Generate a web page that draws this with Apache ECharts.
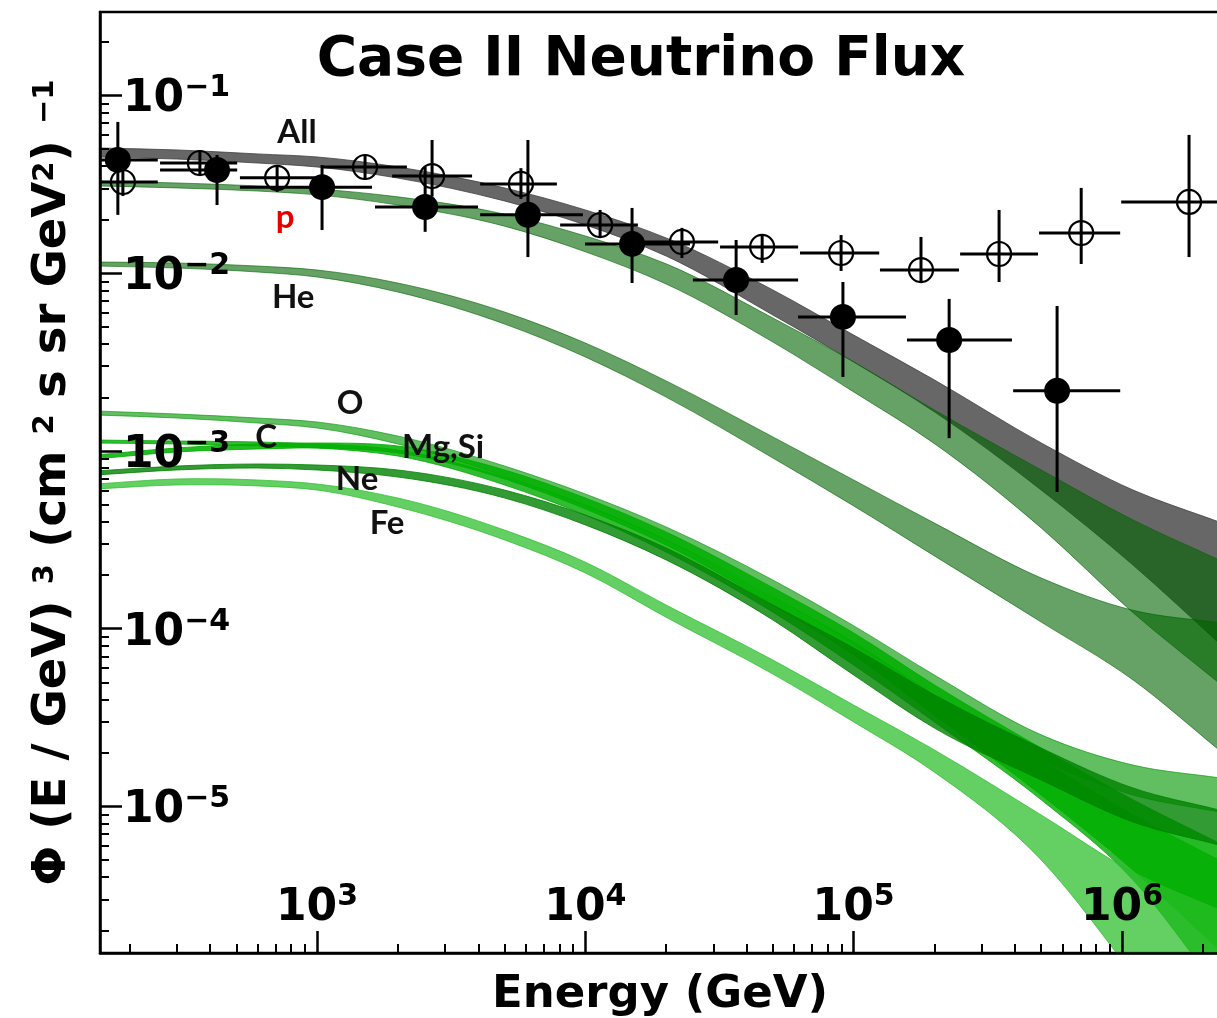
<!DOCTYPE html>
<html><head><meta charset="utf-8">
<script src="https://cdn.jsdelivr.net/npm/echarts@6/dist/echarts.min.js"></script>
<style>html,body{margin:0;padding:0;background:#fff}#chart{width:1217px;height:1018px}</style>
</head><body><div id="chart"></div>
<script>
// ---------------- data ----------------
const bandEnergy = [150, 300, 600, 1000, 2000, 5000, 1e4, 2e4, 5e4, 1e5, 2e5, 5e5, 1.1e6, 2.3e6];

const allUpper = [0.0507, 0.0494, 0.0469, 0.0451, 0.0396, 0.0302, 0.0227, 0.0158, 0.00805, 0.00449, 0.00251, 0.00111, 0.000603, 0.000399];
const allLower = [0.0451, 0.0439, 0.0417, 0.0396, 0.0343, 0.0255, 0.0187, 0.0125, 0.00582, 0.00317, 0.00166, 0.000603, 0.000228, 8.31e-5];

const pUpper = [0.0330, 0.0322, 0.0310, 0.0298, 0.0269, 0.0215, 0.0162, 0.0113, 0.00560, 0.00317, 0.00170, 0.000782, 0.000409, 0.000244];
const pLower = [0.0310, 0.0302, 0.0290, 0.0276, 0.0242, 0.0184, 0.0132, 0.00870, 0.00410, 0.00215, 0.00110, 0.000369, 0.000123, 4.95e-5];

const heUpper = [0.01157, 0.01142, 0.01098, 0.01043, 0.00881, 0.00605, 0.00405, 0.00248, 0.00120, 0.000687, 0.000393, 0.000193, 0.000127, 0.000108];
const heLower = [0.01098, 0.01070, 0.01016, 0.00953, 0.00784, 0.00518, 0.00338, 0.00201, 0.000913, 0.000491, 0.000257, 0.000109, 5.15e-5, 2.08e-5];

const oUpper = [0.001679, 0.001615, 0.001533, 0.001456, 0.001214, 0.000823, 0.000573, 0.000374, 0.000188, 0.000104, 5.49e-5, 2.53e-5, 1.71e-5, 1.45e-5];
const oLower = [0.001594, 0.001533, 0.001437, 0.001347, 0.001095, 0.000723, 0.000491, 0.000316, 0.000153, 8.21e-5, 4.13e-5, 1.83e-5, 1.16e-5, 9.31e-6];

const cUpper = [0.001153, 0.001138, 0.001124, 0.001095, 0.001013, 0.000714, 0.000497, 0.000316, 0.000151, 8.42e-5, 4.24e-5, 1.83e-5, 8.96e-6, 5.00e-6];
const cLower = [0.001109, 0.001095, 0.001067, 0.001040, 0.000937, 0.000644, 0.000436, 0.000270, 0.000124, 6.25e-5, 2.99e-5, 1.09e-5, 3.86e-6, 9.28e-7];

const mgsiUpper = [0.000950, 0.001040, 0.001095, 0.001109, 0.001067, 0.000782, 0.000544, 0.000350, 0.000170, 9.47e-5, 4.83e-5, 2.13e-5, 1.09e-5, 6.23e-6];
const mgsiLower = [0.000902, 0.000987, 0.001026, 0.001040, 0.000974, 0.000696, 0.000472, 0.000296, 0.000136, 7.12e-5, 3.27e-5, 1.16e-5, 4.39e-6, 1.56e-6];

const neUpper = [0.000772, 0.000823, 0.000845, 0.000834, 0.000782, 0.000603, 0.000436, 0.000285, 0.000136, 7.79e-5, 4.24e-5, 2.13e-5, 1.27e-5, 9.56e-6];
const neLower = [0.000733, 0.000782, 0.000802, 0.000782, 0.000714, 0.000544, 0.000384, 0.000244, 0.000112, 5.49e-5, 2.76e-5, 1.41e-5, 8.18e-6, 6.07e-6];

const feUpper = [0.000652, 0.000696, 0.000687, 0.000652, 0.000544, 0.000359, 0.000237, 0.000136, 6.67e-5, 3.72e-5, 2.08e-5, 8.96e-6, 4.28e-6, 2.62e-6];
const feLower = [0.000611, 0.000644, 0.000636, 0.000603, 0.000484, 0.000316, 0.000206, 0.000116, 5.56e-5, 2.99e-5, 1.56e-5, 5.00e-6, 1.13e-6, 2.54e-7];

// filled-circle data points with error bars
const filledE      = [181, 424, 1044, 2529, 6109, 14930, 36470, 91200, 226900, 573000];
const filledFlux   = [0.0434, 0.0381, 0.0305, 0.0236, 0.0213, 0.01462, 0.00916, 0.00568, 0.00421, 0.00218];
const filledELo    = [130, 260, 516, 1645, 4055, 9970, 25170, 62070, 158000, 393000];
const filledEHi    = [255, 504, 1603, 3981, 9795, 24540, 62070, 156700, 389000, 985000];
const filledFluxLo = [0.0213, 0.0242, 0.0175, 0.0171, 0.01233, 0.00881, 0.00582, 0.00261, 0.00118, 0.000588];
const filledFluxHi = [0.0710, 0.0463, 0.0406, 0.0396, 0.0562, 0.0233, 0.01538, 0.00893, 0.00717, 0.00654];

// open-circle data points with error bars
const openE      = [189, 366, 710, 1510, 2684, 5754, 11350, 22910, 45600, 89770, 178200, 348300, 704700, 1778000];
const openFlux   = [0.0326, 0.0417, 0.0344, 0.0396, 0.0352, 0.0318, 0.01866, 0.0150, 0.01406, 0.0130, 0.01042, 0.01283, 0.01683, 0.0252];
const openELo    = [150, 260, 516, 1052, 1905, 4055, 8054, 15700, 31770, 63100, 125300, 249300, 490900, 993200];
const openEHi    = [255, 504, 1000, 2163, 3783, 7834, 15700, 31260, 62070, 124500, 247000, 486400, 984600, 3270000];
const openFluxLo = [0.0272, 0.0352, 0.0287, 0.0335, 0.0270, 0.0262, 0.0160, 0.01219, 0.01143, 0.0103, 0.00881, 0.00893, 0.01127, 0.01233];
const openFluxHi = [0.0391, 0.0493, 0.0406, 0.0463, 0.0562, 0.0390, 0.0227, 0.0180, 0.0164, 0.0164, 0.0160, 0.0227, 0.0302, 0.060];

// curve annotations
const annotText = ['All', 'p', 'He', 'O', 'C', 'Mg,Si', 'Ne', 'Fe'];
const annotE    = [842, 760, 815, 1327, 646, 2951, 1409, 1824];
const annotFlux = [0.0624, 0.0207, 0.00735, 0.001862, 0.0012, 0.001052, 0.000696, 0.000394];

// ticks
const xMajorTicks = [1e3, 1e4, 1e5, 1e6];
const xMinorTicks = [200,300,400,500,600,700,800,900, 2e3,3e3,4e3,5e3,6e3,7e3,8e3,9e3,
  2e4,3e4,4e4,5e4,6e4,7e4,8e4,9e4, 2e5,3e5,4e5,5e5,6e5,7e5,8e5,9e5, 2e6];
const yMajorTicks = [1e-5, 1e-4, 1e-3, 1e-2, 1e-1];
const yMinorTicks = [2e-6,3e-6,4e-6,5e-6,6e-6,7e-6,8e-6,9e-6, 2e-5,3e-5,4e-5,5e-5,6e-5,7e-5,8e-5,9e-5,
  2e-4,3e-4,4e-4,5e-4,6e-4,7e-4,8e-4,9e-4, 2e-3,3e-3,4e-3,5e-3,6e-3,7e-3,8e-3,9e-3,
  2e-2,3e-2,4e-2,5e-2,6e-2,7e-2,8e-2,9e-2, 2e-1];

const xMin = 155.3, xMax = 2.319e6, yMin = 1.499e-6, yMax = 0.2949;

// ---------------- rendering helpers ----------------
// cubic Hermite spline (non-uniform tangents) through pixel points, emitted as Bezier path
function spline(pts, move) {
  const n = pts.length;
  const h = [], d = [];
  for (let i = 0; i < n - 1; i++) {
    h.push(pts[i + 1][0] - pts[i][0]);
    d.push((pts[i + 1][1] - pts[i][1]) / h[i]);
  }
  const m = [];
  for (let i = 0; i < n; i++) {
    if (i === 0) m.push(d[0]);
    else if (i === n - 1) m.push(d[n - 2]);
    else m.push((d[i - 1] * h[i] + d[i] * h[i - 1]) / (h[i - 1] + h[i]));
  }
  let s = move ? 'M ' + pts[0][0] + ' ' + pts[0][1] : '';
  for (let i = 0; i < n - 1; i++) {
    const p1 = pts[i], p2 = pts[i + 1], k = h[i] / 3;
    s += ' C ' + (p1[0] + k) + ' ' + (p1[1] + m[i] * k) + ' ' + (p2[0] - k) + ' ' + (p2[1] - m[i + 1] * k) + ' ' + p2[0] + ' ' + p2[1];
  }
  return s;
}
function bandSeries(name, upper, lower, color) {
  return {
    type: 'custom', name: name, clip: true, silent: true, z: 2,
    data: bandEnergy.map((e, i) => [e, lower[i], upper[i]]),
    encode: { x: 0, y: [1, 2] },
    renderItem: function (params, api) {
      if (params.dataIndex !== 0) return null;
      const top = bandEnergy.map((e, i) => api.coord([e, upper[i]]));
      const bot = bandEnergy.map((e, i) => api.coord([e, lower[i]])).reverse();
      const d = spline(top, true) + ' L ' + bot[0][0] + ' ' + bot[0][1] + spline(bot, false) + ' Z';
      return { type: 'path', shape: { pathData: d }, style: { fill: color, stroke: color, lineWidth: 1 } };
    }
  };
}
function pointSeries(E, F, ELo, EHi, FLo, FHi, filled) {
  return {
    type: 'custom', clip: true, silent: true, z: 3,
    data: E.map((e, i) => [e, F[i], ELo[i], EHi[i], FLo[i], FHi[i]]),
    encode: { x: 0, y: 1 },
    renderItem: function (params, api) {
      const c = api.coord([api.value(0), api.value(1)]);
      const l = api.coord([api.value(2), api.value(1)]);
      const r = api.coord([api.value(3), api.value(1)]);
      const b = api.coord([api.value(0), api.value(4)]);
      const t = api.coord([api.value(0), api.value(5)]);
      return {
        type: 'group', children: [
          { type: 'line', shape: { x1: l[0], y1: l[1], x2: r[0], y2: r[1] }, style: { stroke: '#000', lineWidth: 3 } },
          { type: 'line', shape: { x1: b[0], y1: b[1], x2: t[0], y2: t[1] }, style: { stroke: '#000', lineWidth: 3 } },
          { type: 'circle', shape: { cx: c[0], cy: c[1], r: filled ? 13 : 12 },
            style: filled ? { fill: '#000' } : { fill: 'none', stroke: '#000', lineWidth: 2.2 } }
        ]
      };
    }
  };
}
function powLabel(v) {
  const e = Math.round(Math.log10(v));
  return '{b|10}{s|' + (e < 0 ? '\u2212' + (-e) : e) + '}';
}
const tickRich = {
  b: { fontSize: 44, fontWeight: 'bold', fontFamily: 'DejaVu Sans', color: '#000', lineHeight: 53, height: 44, verticalAlign: 'bottom' },
  s: { fontSize: 30, fontWeight: 'bold', fontFamily: 'DejaVu Sans', color: '#000', lineHeight: 53, height: 39, verticalAlign: 'top' }
};
const nameRich = {
  m: { fontSize: 46.5, fontWeight: 'bold', fontFamily: 'DejaVu Sans', color: '#000', lineHeight: 46, height: 46, verticalAlign: 'bottom' },
  s: { fontSize: 29, fontWeight: 'bold', fontFamily: 'DejaVu Sans', color: '#000', lineHeight: 46, height: 30, verticalAlign: 'top' }
};

// ---------------- chart ----------------
const chart = echarts.init(document.getElementById('chart'), null, { renderer: 'canvas' });
chart.setOption({
  animation: false,
  backgroundColor: '#fff',
  grid: {
    left: 100, top: 12, right: -3, bottom: 65,
    containLabel: false, outerBoundsMode: 'none',
    show: true, borderColor: '#000', borderWidth: 2.5, backgroundColor: 'transparent'
  },
  graphic: [{
    type: 'text', x: 641, y: 61, silent: true,
    style: { text: 'Case II Neutrino Flux', fill: '#000', textAlign: 'center', textVerticalAlign: 'middle',
      font: 'bold 55px "DejaVu Sans"' }
  }],
  xAxis: [{
    type: 'log', min: xMin, max: xMax, gridIndex: 0, z: 10,
    name: 'Energy (GeV)', nameLocation: 'middle', nameGap: 20, nameMoveOverlap: false,
    nameTextStyle: { fontSize: 45, fontWeight: 'bold', fontFamily: 'DejaVu Sans', color: '#000', lineHeight: 45 },
    axisLine: { show: true, lineStyle: { color: '#000', width: 2.5 } },
    axisTick: { show: true, inside: true, length: 22, lineStyle: { color: '#000', width: 2.5 }, customValues: xMajorTicks },
    axisLabel: { show: true, inside: true, margin: 22, customValues: xMajorTicks, formatter: powLabel, rich: tickRich },
    splitLine: { show: false }, minorTick: { show: false }
  }, {
    type: 'log', min: xMin, max: xMax, gridIndex: 0, position: 'bottom', z: 10,
    axisLine: { show: false },
    axisTick: { show: true, inside: true, length: 9, lineStyle: { color: '#000', width: 2 }, customValues: xMinorTicks },
    axisLabel: { show: false }, splitLine: { show: false }
  }],
  yAxis: [{
    type: 'log', min: yMin, max: yMax, gridIndex: 0, z: 10,
    name: '{m|\u03A6 (E / GeV)} {s|3} {m|(cm} {s|2} {m|s sr GeV}{s|2}{m|)} {s|\u22121}',
    nameLocation: 'middle', nameRotate: 90, nameGap: 24, nameMoveOverlap: false,
    nameTextStyle: { fontSize: 46.5, fontWeight: 'bold', fontFamily: 'DejaVu Sans', color: '#000', lineHeight: 46, rich: nameRich },
    axisLine: { show: true, lineStyle: { color: '#000', width: 2.5 } },
    axisTick: { show: true, inside: true, length: 22, lineStyle: { color: '#000', width: 2.5 }, customValues: yMajorTicks },
    axisLabel: { show: true, inside: true, margin: 23, customValues: yMajorTicks, formatter: powLabel, rich: tickRich },
    splitLine: { show: false }, minorTick: { show: false }
  }, {
    type: 'log', min: yMin, max: yMax, gridIndex: 0, position: 'left', z: 10,
    axisLine: { show: false },
    axisTick: { show: true, inside: true, length: 9, lineStyle: { color: '#000', width: 2 }, customValues: yMinorTicks },
    axisLabel: { show: false }, splitLine: { show: false }
  }],
  series: [
    bandSeries('All', allUpper, allLower, 'rgba(60,60,60,0.78)'),
    bandSeries('p', pUpper, pLower, 'rgba(0,100,0,0.6)'),
    bandSeries('He', heUpper, heLower, 'rgba(0,100,0,0.6)'),
    bandSeries('O', oUpper, oLower, 'rgba(0,150,0,0.62)'),
    bandSeries('C', cUpper, cLower, 'rgba(0,170,0,0.8)'),
    bandSeries('Mg,Si', mgsiUpper, mgsiLower, 'rgba(0,175,0,0.85)'),
    bandSeries('Ne', neUpper, neLower, 'rgba(0,130,0,0.8)'),
    bandSeries('Fe', feUpper, feLower, 'rgba(40,190,40,0.72)'),
    pointSeries(openE, openFlux, openELo, openEHi, openFluxLo, openFluxHi, false),
    pointSeries(filledE, filledFlux, filledELo, filledEHi, filledFluxLo, filledFluxHi, true),
    {
      type: 'scatter', silent: true, symbolSize: 1, z: 4, itemStyle: { color: 'rgba(0,0,0,0)' },
      data: annotText.map((t, i) => ({ name: t, value: [annotE[i], annotFlux[i]],
        label: { color: t === 'p' ? '#e60000' : '#111' } })),
      label: { show: true, position: 'inside', formatter: '{b}', fontFamily: 'Lato', fontWeight: 'bold', fontSize: 33, opacity: 1 }
    }
  ]
});
</script>
</body></html>
